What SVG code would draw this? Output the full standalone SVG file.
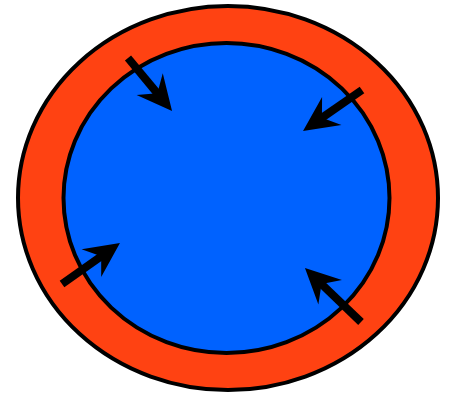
<svg xmlns="http://www.w3.org/2000/svg" width="460" height="396" viewBox="0 0 460 396">
  <style>
    .outer { fill: #FF4212; stroke: #000; stroke-width: 4; }
    .inner { fill: #0062FF; stroke: #000; stroke-width: 4; }
    .arrow { stroke: #000; stroke-width: 8; fill: none; marker-end: url(#head); }
  </style>
  <defs>
    <marker id="head" markerUnits="userSpaceOnUse" viewBox="-36 -18 38 36" refX="-22" refY="0" markerWidth="38" markerHeight="36" orient="auto">
      <path d="M0,0 L-35,-17 L-23,0 L-35,17 Z" fill="#000"/>
    </marker>
  </defs>
  <g id="outer-ring">
    <ellipse class="outer" cx="228" cy="198" rx="210" ry="192"/>
  </g>
  <g id="inner-disc">
    <ellipse class="inner" cx="226.5" cy="198" rx="163" ry="155"/>
  </g>
  <g id="connectors">
    <line class="arrow" x1="128" y1="58" x2="158" y2="94.1"/>
    <line class="arrow" x1="362" y1="90" x2="321.1" y2="118.4"/>
    <line class="arrow" x1="62" y1="284" x2="102" y2="255.7"/>
    <line class="arrow" x1="361" y1="322" x2="320.8" y2="283.3"/>
  </g>
</svg>
